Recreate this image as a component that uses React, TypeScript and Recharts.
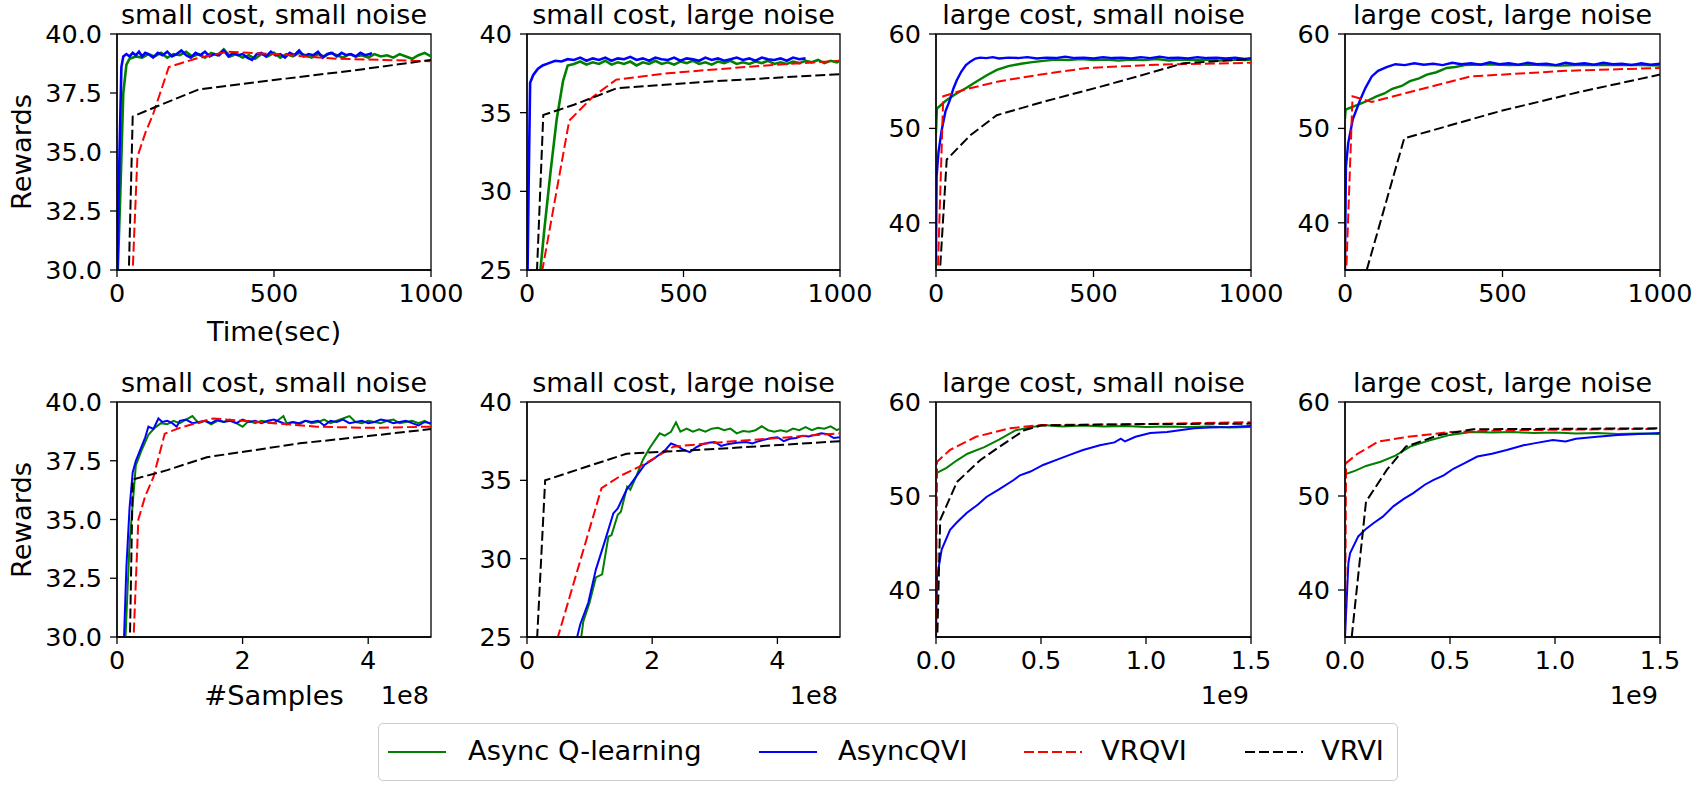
import React from 'react';
import { LineChart, Line, XAxis, YAxis, ReferenceArea } from 'recharts';

type Pt = [number, number];

// ---------------- DATA ----------------
const seriesNames = ['Async Q-learning', 'AsyncQVI', 'VRQVI', 'VRVI'];
const titles = [
  'small cost, small noise', 'small cost, large noise', 'large cost, small noise', 'large cost, large noise',
  'small cost, small noise', 'small cost, large noise', 'large cost, small noise', 'large cost, large noise',
];
const timeTicks = [0, 500, 1000];
const sampleTicksSmall = [0, 2, 4];
const sampleTicksLarge = [0, 0.5, 1.0, 1.5];
const yTicksSmallCostSmallNoise = [30, 32.5, 35, 37.5, 40];
const yTicksSmallCostLargeNoise = [25, 30, 35, 40];
const yTicksLargeCost = [40, 50, 60];

// Panel 1: small cost, small noise (time)
const p1Green: Pt[] = [[0,29],[10,33],[20,37.5],[30,38.7],[40,38.95],[60,39.05],[80,39.0],[100,39.15],[120,39.05],[140,39.2],[160,39.0],[180,39.15],[200,39.1],[220,39.25],[240,39.05],[260,39.15],[280,39.0],[300,39.2],[320,39.1],[340,39.35],[360,39.05],[380,39.15],[400,39.0],[420,39.1],[440,38.95],[460,39.15],[480,39.05],[500,39.2],[520,39.0],[540,39.15],[560,39.05],[580,39.2],[600,39.1],[620,39.0],[640,39.15],[660,39.05],[680,39.2],[700,39.1],[720,39.0],[740,39.15],[760,39.05],[780,39.1],[800,39.0],[820,39.15],[840,39.05],[860,39.1],[880,39.0],[900,39.15],[920,39.05],[940,38.95],[960,39.1],[980,39.2],[1000,39.05]];
const p1Blue: Pt[] = [[0,29],[8,35],[14,38.6],[20,39.05],[30,39.15],[40,39.05],[50,39.2],[60,39.1],[70,39.25],[80,39.05],[90,39.2],[100,39.15],[115,39.0],[130,39.2],[145,39.1],[160,39.25],[175,39.05],[190,39.15],[205,39.3],[220,39.1],[235,39.0],[250,39.2],[265,39.1],[280,39.25],[295,39.05],[310,39.15],[325,39.1],[340,39.3],[355,39.05],[370,39.2],[385,39.1],[400,39.15],[415,39.0],[430,38.9],[445,39.15],[460,39.2],[475,39.05],[490,39.25],[505,39.1],[520,39.15],[535,39.0],[550,39.2],[565,39.1],[580,39.3],[595,39.05],[610,39.15],[625,39.1],[640,39.25],[655,39.0],[670,39.15],[685,39.2],[700,39.05],[715,39.2],[730,39.1],[745,39.15],[760,39.05],[775,39.2],[790,39.1],[805,39.15],[812,39.2]];
const p1Red: Pt[] = [[47,29],[65,34.8],[90,35.8],[115,36.6],[140,37.6],[165,38.6],[250,38.95],[350,39.25],[500,39.15],[700,38.95],[850,38.9],[1000,38.85]];
const p1Black: Pt[] = [[36,29],[50,36.5],[130,36.95],[260,37.65],[500,38.05],[750,38.45],[1000,38.9]];

// Panel 2: small cost, large noise (time)
const p2Green: Pt[] = [[38,24],[55,27.5],[75,31.2],[95,34.6],[115,37.0],[130,38.0],[150,38.1],[170,38.25],[190,38.05],[210,38.2],[230,38.1],[250,38.3],[270,38.05],[290,38.2],[310,38.1],[330,38.25],[350,38.0],[370,38.2],[390,38.1],[410,38.3],[430,38.1],[450,38.2],[470,38.05],[490,38.25],[510,38.15],[530,38.3],[550,38.1],[570,38.2],[590,38.05],[610,38.25],[630,38.15],[650,38.3],[670,38.1],[690,38.2],[710,38.1],[730,38.25],[750,38.15],[770,38.3],[790,38.1],[810,38.2],[830,38.1],[850,38.25],[870,38.15],[890,38.3],[910,38.2],[930,38.35],[950,38.15],[970,38.3],[990,38.2],[1000,38.3]];
const p2Blue: Pt[] = [[0,22],[5,30],[10,36.9],[20,37.4],[35,37.8],[50,38.0],[70,38.15],[90,38.3],[110,38.25],[130,38.4],[150,38.35],[170,38.5],[190,38.3],[210,38.45],[230,38.35],[250,38.5],[270,38.3],[290,38.45],[310,38.4],[330,38.55],[350,38.35],[370,38.45],[390,38.3],[410,38.5],[430,38.4],[450,38.35],[470,38.5],[490,38.3],[510,38.45],[530,38.4],[550,38.3],[570,38.5],[590,38.35],[610,38.45],[630,38.3],[650,38.4],[670,38.5],[690,38.35],[710,38.45],[730,38.3],[750,38.5],[770,38.4],[790,38.35],[810,38.45],[830,38.3],[850,38.5],[870,38.4],[890,38.45]];
const p2Red: Pt[] = [[40,24],[135,34.5],[210,36.0],[285,37.1],[450,37.5],[600,37.75],[800,38.05],[1000,38.3]];
const p2Black: Pt[] = [[30,24],[52,34.85],[150,35.5],[287,36.55],[600,37.0],[1000,37.45]];

// Panel 3: large cost, small noise (time)
const p3Green: Pt[] = [[0,49.5],[3,52.1],[30,52.9],[60,53.6],[97,54.3],[130,55.0],[160,55.6],[193,56.2],[230,56.6],[270,56.85],[300,57.0],[340,57.15],[380,57.3],[420,57.25],[460,57.35],[500,57.25],[540,57.3],[580,57.2],[620,57.3],[660,57.25],[700,57.35],[740,57.2],[780,57.3],[820,57.25],[860,57.3],[900,57.2],[940,57.3],[980,57.25],[1000,57.3]];
const p3Blue: Pt[] = [[0,36],[2,44.9],[8,47.5],[18,49.8],[30,51.8],[44,53.0],[55,54.2],[66,55.1],[80,56.0],[95,56.7],[110,57.1],[125,57.4],[140,57.5],[160,57.45],[180,57.55],[200,57.4],[230,57.5],[260,57.45],[290,57.55],[320,57.4],[350,57.5],[380,57.45],[410,57.6],[440,57.45],[470,57.5],[500,57.4],[530,57.55],[560,57.45],[590,57.5],[620,57.4],[650,57.55],[680,57.45],[710,57.6],[740,57.45],[770,57.5],[800,57.4],[830,57.55],[860,57.45],[890,57.5],[920,57.4],[950,57.5],[980,57.35],[1000,57.45]];
const p3Red: Pt[] = [[5,34],[23,53.4],[100,54.2],[203,55.0],[350,55.8],[480,56.4],[700,56.75],[1000,56.95]];
const p3Black: Pt[] = [[11,34],[34,46.7],[110,49.3],[193,51.4],[350,52.9],[520,54.4],[650,55.6],[785,56.9],[1000,57.35]];

// Panel 4: large cost, large noise (time)
const p4Green: Pt[] = [[0,51.0],[2,52.0],[40,52.5],[70,52.9],[100,53.4],[125,53.7],[150,54.2],[180,54.5],[206,55.0],[235,55.3],[260,55.7],[290,55.95],[323,56.4],[350,56.5],[380,56.7],[450,56.8],[520,56.7],[600,56.75],[680,56.65],[760,56.75],[840,56.7],[920,56.75],[1000,56.65]];
const p4Blue: Pt[] = [[0,35],[3,45.9],[10,48.4],[25,51.0],[48,53.0],[65,54.3],[85,55.5],[105,56.1],[132,56.5],[160,56.8],[190,56.7],[220,56.9],[250,56.75],[280,56.85],[310,56.7],[340,56.95],[370,56.8],[400,56.9],[430,56.75],[460,57.0],[490,56.8],[520,56.9],[550,56.75],[580,56.95],[610,56.8],[640,56.85],[670,56.7],[700,56.95],[730,56.8],[760,56.9],[790,56.75],[820,56.95],[850,56.8],[880,56.85],[910,56.7],[940,56.9],[970,56.75],[1000,56.85]];
const p4Red: Pt[] = [[3,34],[24,53.4],[85,52.8],[200,53.8],[397,55.5],[700,56.1],[1000,56.4]];
const p4Black: Pt[] = [[69,35],[188,48.95],[500,51.9],[750,53.9],[1000,55.7]];

// Panel 5: small cost, small noise (samples, 1e8)
const p5Green: Pt[] = [[0.12,29],[0.2,34],[0.3,37.3],[0.4,38.0],[0.5,38.6],[0.6,38.9],[0.7,39.1],[0.8,39.05],[0.9,39.2],[1.0,39.1],[1.1,39.25],[1.2,39.4],[1.3,39.1],[1.4,39.2],[1.5,39.05],[1.6,39.2],[1.7,39.15],[1.8,39.25],[1.9,39.1],[2.0,38.95],[2.1,39.2],[2.2,39.1],[2.3,39.2],[2.4,39.15],[2.5,39.1],[2.6,39.3],[2.65,39.4],[2.7,39.1],[2.8,39.15],[2.9,39.05],[3.0,39.2],[3.1,39.1],[3.2,39.15],[3.3,39.25],[3.4,39.1],[3.5,39.2],[3.6,39.3],[3.7,39.4],[3.8,39.15],[3.9,39.1],[4.0,39.2],[4.1,39.15],[4.2,39.1],[4.3,39.2],[4.4,39.25],[4.5,39.1],[4.6,39.15],[4.7,39.2],[4.8,39.1],[4.9,39.2],[5.0,39.05]];
const p5Blue: Pt[] = [[0.1,29],[0.15,33],[0.2,35.5],[0.25,37.0],[0.3,37.5],[0.37,37.96],[0.45,38.5],[0.5,38.95],[0.58,38.85],[0.66,39.3],[0.72,39.15],[0.8,39.2],[0.88,39.1],[0.95,38.95],[1.0,39.2],[1.1,39.25],[1.2,39.1],[1.3,39.15],[1.4,39.2],[1.5,39.1],[1.6,39.25],[1.7,39.15],[1.8,39.2],[1.9,39.1],[2.0,39.25],[2.1,39.15],[2.2,39.2],[2.3,39.1],[2.4,39.2],[2.5,39.25],[2.6,39.15],[2.7,39.05],[2.8,39.15],[2.9,39.1],[3.0,39.2],[3.1,39.15],[3.2,39.2],[3.3,39.0],[3.4,39.2],[3.5,39.15],[3.6,39.25],[3.7,39.1],[3.8,39.15],[3.9,39.2],[4.0,39.1],[4.1,39.15],[4.2,39.25],[4.3,39.2],[4.4,39.1],[4.5,39.15],[4.6,39.2],[4.7,39.1],[4.8,39.0],[4.9,39.15],[5.0,39.1]];
const p5Red: Pt[] = [[0.25,29],[0.34,35.0],[0.45,36.0],[0.58,36.8],[0.76,38.65],[1.0,38.9],[1.53,39.3],[2.0,39.2],[2.5,39.1],[3.18,38.95],[4.0,38.9],[5.0,38.95]];
const p5Black: Pt[] = [[0.2,29],[0.25,36.7],[0.8,37.1],[1.43,37.65],[2.91,38.24],[4.0,38.55],[5.0,38.85]];

// Panel 6: small cost, large noise (samples, 1e8)
const p6Green: Pt[] = [[0.85,24.5],[0.9,26.0],[1.0,27.2],[1.1,28.8],[1.2,29.0],[1.3,31.4],[1.35,31.5],[1.45,32.8],[1.5,33.0],[1.6,34.6],[1.65,34.4],[1.75,35.3],[1.85,36.3],[1.95,37.0],[2.05,37.6],[2.12,38.0],[2.2,37.85],[2.3,38.1],[2.38,38.7],[2.45,38.1],[2.55,38.3],[2.65,38.1],[2.75,38.25],[2.85,38.1],[2.95,38.3],[3.05,38.35],[3.15,38.2],[3.25,38.3],[3.35,38.0],[3.45,38.15],[3.55,38.1],[3.65,38.2],[3.75,38.45],[3.85,38.2],[3.95,38.1],[4.05,38.2],[4.15,38.1],[4.25,38.3],[4.35,38.2],[4.45,38.4],[4.55,38.2],[4.65,38.35],[4.75,38.3],[4.85,38.45],[4.95,38.2],[5.0,38.3]];
const p6Blue: Pt[] = [[0.74,24],[0.85,25.8],[0.98,27.2],[1.1,29.3],[1.25,31.2],[1.38,32.9],[1.45,33.2],[1.59,34.4],[1.7,35.0],[1.88,36.0],[2.0,36.3],[2.1,36.6],[2.2,36.9],[2.3,37.35],[2.4,37.2],[2.5,36.95],[2.6,36.8],[2.7,37.1],[2.8,37.3],[2.9,37.4],[3.0,37.45],[3.1,37.2],[3.2,37.3],[3.35,37.4],[3.5,37.45],[3.6,37.35],[3.7,37.5],[3.8,37.6],[3.9,37.7],[4.0,37.75],[4.1,37.5],[4.2,37.65],[4.3,37.7],[4.4,37.85],[4.5,37.8],[4.6,37.9],[4.7,38.0],[4.8,37.95],[4.9,37.7],[5.0,37.75]];
const p6Red: Pt[] = [[0.42,24],[1.19,34.5],[1.5,35.3],[1.86,36.0],[2.34,37.15],[3.0,37.4],[4.0,37.7],[5.0,38.0]];
const p6Black: Pt[] = [[0.15,24],[0.29,35.0],[0.9,35.8],[1.59,36.7],[3.0,37.0],[5.0,37.5]];

// Panel 7: large cost, small noise (samples, 1e9)
const p7Green: Pt[] = [[0,52.4],[0.05,53.0],[0.1,53.8],[0.15,54.5],[0.23,55.2],[0.3,56.0],[0.38,57.0],[0.45,57.3],[0.51,57.55],[0.6,57.4],[0.7,57.5],[0.8,57.4],[0.9,57.45],[1.0,57.35],[1.1,57.4],[1.2,57.35],[1.3,57.4],[1.4,57.3],[1.5,57.35]];
const p7Blue: Pt[] = [[0,35],[0.005,41.4],[0.027,44.3],[0.067,46.4],[0.1,47.2],[0.146,48.2],[0.2,49.1],[0.24,49.9],[0.3,50.7],[0.37,51.7],[0.4,52.2],[0.45,52.6],[0.51,53.3],[0.58,53.9],[0.64,54.4],[0.7,54.9],[0.78,55.4],[0.85,55.7],[0.88,56.1],[0.9,55.8],[0.95,56.3],[1.02,56.7],[1.1,56.8],[1.23,57.2],[1.3,57.3],[1.4,57.35],[1.5,57.45]];
const p7Red: Pt[] = [[0,34],[0.005,53.65],[0.067,54.9],[0.19,56.3],[0.35,57.2],[0.5,57.55],[0.8,57.6],[1.0,57.65],[1.5,57.85]];
const p7Black: Pt[] = [[0.005,34],[0.02,47.45],[0.1,51.5],[0.21,53.8],[0.3,55.2],[0.42,57.0],[0.5,57.5],[0.8,57.6],[1.0,57.65],[1.5,57.7]];

// Panel 8: large cost, large noise (samples, 1e9)
const p8Green: Pt[] = [[0,52.3],[0.05,52.7],[0.1,53.2],[0.17,53.65],[0.24,54.3],[0.31,55.25],[0.4,55.9],[0.5,56.5],[0.6,56.8],[0.7,56.75],[0.8,56.8],[0.9,56.7],[1.0,56.75],[1.1,56.65],[1.2,56.7],[1.3,56.6],[1.4,56.65],[1.5,56.6]];
const p8Blue: Pt[] = [[0,35],[0.016,42.85],[0.024,43.9],[0.063,45.7],[0.1,46.5],[0.135,47.1],[0.18,47.8],[0.23,48.9],[0.28,49.7],[0.325,50.3],[0.38,51.2],[0.42,51.7],[0.47,52.2],[0.516,52.9],[0.57,53.5],[0.63,54.2],[0.7,54.5],[0.77,54.9],[0.85,55.4],[0.9,55.6],[0.99,55.96],[1.05,55.8],[1.1,56.1],[1.2,56.3],[1.3,56.5],[1.4,56.6],[1.5,56.7]];
const p8Red: Pt[] = [[0,34],[0.005,53.5],[0.06,54.5],[0.16,55.8],[0.3,56.3],[0.5,56.8],[0.8,57.0],[1.5,57.15]];
const p8Black: Pt[] = [[0.032,35],[0.1,49.4],[0.2,52.8],[0.29,55.25],[0.45,56.5],[0.61,57.1],[1.0,57.15],[1.5,57.2]];

// ---------------- STYLE ----------------
const FONT = "'DejaVu Sans', sans-serif";
const COLORS = ['#008000', '#0000ff', '#ff0000', '#000000'];
const DASHES = [undefined, undefined, '10 4', '10 4'];
const TICK_FS = 25.5;
const LABEL_FS = 27.3;
const TITLE_FS = 27;

const colX = [117, 527, 936, 1345];
const colW = [314, 313, 315, 315];
const rowY = [34, 402];
const rowH = [236, 235];

const toObjs = (pts: Pt[]) => pts.map(([x, y]) => ({ x, y }));
const fmt1 = (v: number) => v.toFixed(1);
const fmt0 = (v: number) => String(v);

interface PanelCfg {
  col: number; row: number; title: string; noisyWidth: number;
  xDomain: [number, number]; xTicks: number[]; xFmt: (v: number) => string;
  yDomain: [number, number]; yTicks: number[]; yFmt: (v: number) => string;
  series: Pt[][];
}

const panels: PanelCfg[] = [
  { col: 0, row: 0, title: titles[0], noisyWidth: 2.6, xDomain: [0, 1000], xTicks: timeTicks, xFmt: fmt0, yDomain: [30, 40], yTicks: yTicksSmallCostSmallNoise, yFmt: fmt1, series: [p1Green, p1Blue, p1Red, p1Black] },
  { col: 1, row: 0, title: titles[1], noisyWidth: 2.6, xDomain: [0, 1000], xTicks: timeTicks, xFmt: fmt0, yDomain: [25, 40], yTicks: yTicksSmallCostLargeNoise, yFmt: fmt0, series: [p2Green, p2Blue, p2Red, p2Black] },
  { col: 2, row: 0, title: titles[2], noisyWidth: 2.4, xDomain: [0, 1000], xTicks: timeTicks, xFmt: fmt0, yDomain: [35, 60], yTicks: yTicksLargeCost, yFmt: fmt0, series: [p3Green, p3Blue, p3Red, p3Black] },
  { col: 3, row: 0, title: titles[3], noisyWidth: 2.4, xDomain: [0, 1000], xTicks: timeTicks, xFmt: fmt0, yDomain: [35, 60], yTicks: yTicksLargeCost, yFmt: fmt0, series: [p4Green, p4Blue, p4Red, p4Black] },
  { col: 0, row: 1, title: titles[4], noisyWidth: 2, xDomain: [0, 5], xTicks: sampleTicksSmall, xFmt: fmt0, yDomain: [30, 40], yTicks: yTicksSmallCostSmallNoise, yFmt: fmt1, series: [p5Green, p5Blue, p5Red, p5Black] },
  { col: 1, row: 1, title: titles[5], noisyWidth: 2, xDomain: [0, 5], xTicks: sampleTicksSmall, xFmt: fmt0, yDomain: [25, 40], yTicks: yTicksSmallCostLargeNoise, yFmt: fmt0, series: [p6Green, p6Blue, p6Red, p6Black] },
  { col: 2, row: 1, title: titles[6], noisyWidth: 2, xDomain: [0, 1.5], xTicks: sampleTicksLarge, xFmt: fmt1, yDomain: [35, 60], yTicks: yTicksLargeCost, yFmt: fmt0, series: [p7Green, p7Blue, p7Red, p7Black] },
  { col: 3, row: 1, title: titles[7], noisyWidth: 2, xDomain: [0, 1.5], xTicks: sampleTicksLarge, xFmt: fmt1, yDomain: [35, 60], yTicks: yTicksLargeCost, yFmt: fmt0, series: [p8Green, p8Blue, p8Red, p8Black] },
];

const YW = 110, MT = 40, MR = 40, XH = 100;

function Panel({ cfg }: { cfg: PanelCfg }) {
  const pl = colX[cfg.col], pt = rowY[cfg.row], pw = colW[cfg.col], ph = rowH[cfg.row];
  const W = pw + YW + MR, H = ph + MT + XH;
  const tickStyle = { fill: '#000', fontSize: TICK_FS, fontFamily: FONT };
  return (
    <div style={{ position: 'absolute', left: pl - YW, top: pt - MT }}>
      <LineChart width={W} height={H} margin={{ top: MT, right: MR, bottom: 0, left: 0 }}>
        <XAxis type="number" dataKey="x" domain={cfg.xDomain} ticks={cfg.xTicks} tickFormatter={cfg.xFmt}
          allowDataOverflow interval={0} height={XH} tickSize={7} tickMargin={7}
          stroke="#000" strokeWidth={1.3} tick={tickStyle} />
        <YAxis type="number" dataKey="y" domain={cfg.yDomain} ticks={cfg.yTicks} tickFormatter={cfg.yFmt}
          allowDataOverflow interval={0} width={YW} tickSize={7} tickMargin={8}
          stroke="#000" strokeWidth={1.3} tick={tickStyle} />
        {cfg.series.map((s, i) => (
          <Line key={i} data={toObjs(s)} dataKey="y" name={seriesNames[i]} type="linear"
            stroke={COLORS[i]} strokeWidth={i < 2 ? cfg.noisyWidth : 2} strokeDasharray={DASHES[i]} dot={false}
            activeDot={false} isAnimationActive={false} />
        ))}
        <ReferenceArea x1={cfg.xDomain[0]} x2={cfg.xDomain[1]} y1={cfg.yDomain[0]} y2={cfg.yDomain[1]}
          fill="none" fillOpacity={0} stroke="#000" strokeWidth={1.3} ifOverflow="visible" />
      </LineChart>
    </div>
  );
}

function Overlay() {
  const txt = { fontFamily: FONT, fill: '#000' } as const;
  return (
    <svg width={1698} height={785} style={{ position: 'absolute', left: 0, top: 0, pointerEvents: 'none' }}>
      {panels.map((p, i) => (
        <text key={i} x={colX[p.col] + colW[p.col] / 2} y={rowY[p.row] - 10} textAnchor="middle"
          fontSize={TITLE_FS} {...txt}>{p.title}</text>
      ))}
      <text transform="translate(31,152) rotate(-90)" textAnchor="middle" fontSize={LABEL_FS} {...txt}>Rewards</text>
      <text transform="translate(31,520) rotate(-90)" textAnchor="middle" fontSize={LABEL_FS} {...txt}>Rewards</text>
      <text x={274} y={341} textAnchor="middle" fontSize={LABEL_FS} {...txt}>Time(sec)</text>
      <text x={274} y={705} textAnchor="middle" fontSize={LABEL_FS} {...txt}>#Samples</text>
      <text x={429} y={704} textAnchor="end" fontSize={TICK_FS} {...txt}>1e8</text>
      <text x={838} y={704} textAnchor="end" fontSize={TICK_FS} {...txt}>1e8</text>
      <text x={1249} y={704} textAnchor="end" fontSize={TICK_FS} {...txt}>1e9</text>
      <text x={1658} y={704} textAnchor="end" fontSize={TICK_FS} {...txt}>1e9</text>
    </svg>
  );
}

function LegendBox() {
  const handleX = [9, 380, 645, 866];
  const textX = [89, 459, 722, 942];
  return (
    <div style={{ position: 'absolute', left: 378, top: 723, width: 1020, height: 58, border: '1.3px solid #cccccc', borderRadius: 5, background: 'rgba(255,255,255,0.8)', boxSizing: 'border-box' }}>
      {seriesNames.map((n, i) => (
        <React.Fragment key={n}>
          <svg width={58} height={10} style={{ position: 'absolute', left: handleX[i], top: 23 }}>
            <line x1={0} y1={5} x2={58} y2={5} stroke={COLORS[i]} strokeWidth={2} strokeDasharray={DASHES[i]} />
          </svg>
          <div style={{ position: 'absolute', left: textX[i], top: 9, fontFamily: FONT, fontSize: LABEL_FS, lineHeight: '36px', color: '#000', whiteSpace: 'nowrap' }}>{n}</div>
        </React.Fragment>
      ))}
    </div>
  );
}

export default function App() {
  return (
    <div style={{ position: 'absolute', left: 0, top: 0, width: 1698, height: 785, background: '#fff', overflow: 'hidden' }}>
      {panels.map((p, i) => <Panel key={i} cfg={p} />)}
      <Overlay />
      <LegendBox />
    </div>
  );
}
